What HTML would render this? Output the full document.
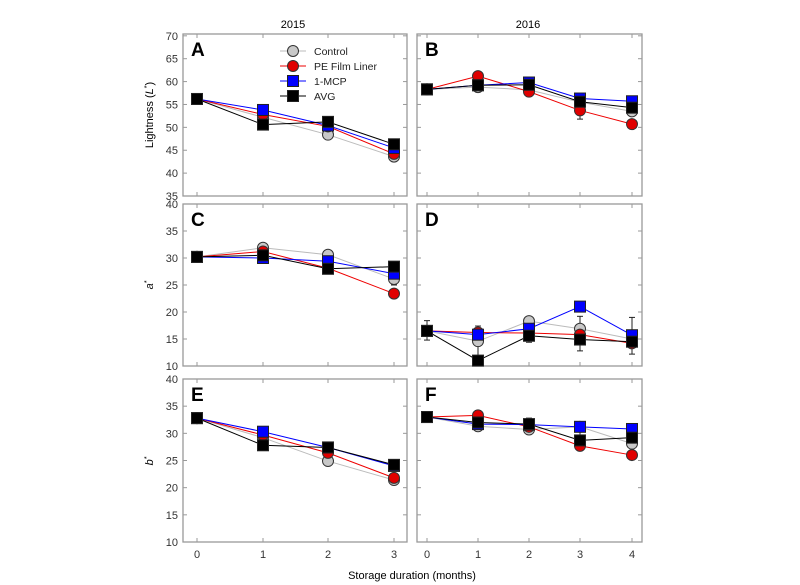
<!DOCTYPE html><html><head><meta charset="utf-8"><style>body{margin:0;background:#fff}svg{display:block;font-family:"Liberation Sans",sans-serif}</style></head><body>
<svg id="s" width="800" height="585" xmlns="http://www.w3.org/2000/svg">
<text x="293" y="28" font-size="11" text-anchor="middle">2015</text>
<text x="528" y="28" font-size="11" text-anchor="middle">2016</text>
<text x="412" y="579" font-size="11" text-anchor="middle">Storage duration (months)</text>
<text transform="translate(153,115) rotate(-90)" font-size="11" text-anchor="middle">Lightness (<tspan font-style="italic">L</tspan><tspan font-size="7" dy="-4">*</tspan><tspan dy="4">)</tspan></text>
<text transform="translate(153,285) rotate(-90)" font-size="11" text-anchor="middle" font-style="italic">a<tspan font-size="7" dy="-4">*</tspan></text>
<text transform="translate(153,461) rotate(-90)" font-size="11" text-anchor="middle" font-style="italic">b<tspan font-size="7" dy="-4">*</tspan></text>
</svg>
<script>
var s=document.getElementById('s'),NS='http://www.w3.org/2000/svg';
function el(t,a,tx){var e=document.createElementNS(NS,t);for(var k in a)e.setAttribute(k,a[k]);if(tx!==undefined)e.textContent=tx;s.appendChild(e);return e;}
var cols=[['#c8c8c8','#c8c8c8','c'],['#e00000','#e00000','c'],['#0000ff','#0000ff','s'],['#000','#000','s']];
var lines=['#bbb','#e00','#00f','#000'];
function panel(x0,x1,y0,y1,ymin,ymax,xt,n,letter,data,ylab,err){
  el('rect',{x:x0,y:y0,width:x1-x0,height:y1-y0,fill:'none',stroke:'#999','stroke-width':1.3});
  var sy=function(v){return y1-(v-ymin)/(ymax-ymin)*(y1-y0);};
  for(var v=ymin;v<=ymax;v+=5){var y=sy(v);el('line',{x1:x0,x2:x0+4,y1:y,y2:y,stroke:'#999'});el('line',{x1:x1,x2:x1-4,y1:y,y2:y,stroke:'#999'});
    if(ylab)el('text',{x:x0-5,y:y+4,'font-size':11,'text-anchor':'end',fill:'#333'},v);}
  for(var i=0;i<n;i++){var x=xt[i];el('line',{x1:x,x2:x,y1:y1,y2:y1-4,stroke:'#999'});el('line',{x1:x,x2:x,y1:y0,y2:y0+4,stroke:'#999'});}
  el('text',{x:x0+8,y:y0+22,'font-size':19,'font-weight':'bold'},letter);
  (err||[]).forEach(function(e){var x=xt[e[0]],ya=sy(e[1]),yb=sy(e[2]);el('line',{x1:x,x2:x,y1:ya,y2:yb,stroke:'#222'});el('line',{x1:x-3,x2:x+3,y1:ya,y2:ya,stroke:'#222'});el('line',{x1:x-3,x2:x+3,y1:yb,y2:yb,stroke:'#222'});});
  data.forEach(function(d,k){var p=d.map(function(v,i){return xt[i]+','+sy(v);}).join(' ');el('polyline',{points:p,fill:'none',stroke:lines[k],'stroke-width':1});});
  data.forEach(function(d,k){d.forEach(function(v,i){var x=xt[i],y=sy(v);
    if(cols[k][2]=='c')el('circle',{cx:x,cy:y,r:5.5,fill:cols[k][0],stroke:'#333','stroke-width':1});
    else el('rect',{x:x-5.5,y:y-5.5,width:11,height:11,fill:cols[k][0],stroke:'#222','stroke-width':1});});});
  return sy;
}
var L=[197,263,328,394],R=[427,478,529,580,632];
panel(183,407,34,196,35,70.4,L,4,'A',[[56.2,52.2,48.4,43.6],[56.2,52.8,50.2,44.2],[56.2,53.8,50.4,45.5],[56.2,50.6,51.2,46.3]],1);
panel(417,642,34,196,35,70.4,R,5,'B',[[58.3,58.8,58.2,55.5,53.5],[58.3,61.2,57.8,53.7,50.7],[58.3,59.2,59.8,56.3,55.7],[58.3,59.2,59.3,55.6,54.3]],0,[[1,57.8,60.2],[3,51.8,55.5]]);
panel(183,407,204,366,10,40,L,4,'C',[[30.2,31.9,30.6,26.1],[30.2,31.2,28.1,23.4],[30.2,30.0,29.4,27.1],[30.2,30.5,28.0,28.4]],1,[[3,25,27]]);
panel(417,642,204,366,10,40,R,5,'D',[[16.5,14.6,18.3,16.9,15.0],[16.5,16.2,16.1,15.8,14.2],[16.5,15.8,16.9,21.0,15.7],[16.5,11.0,15.6,14.9,14.5]],0,[[0,14.8,18.4],[1,10.2,17.4],[2,14.4,18.5],[3,12.8,19.2],[4,12.2,19.0]]);
panel(183,407,379,542,10,40,L,4,'E',[[32.8,29.2,24.9,21.4],[32.8,29.7,26.4,21.8],[32.8,30.3,27.4,24.0],[32.8,27.8,27.4,24.2]],1);
panel(417,642,379,542,10,40,R,5,'F',[[33.0,31.3,30.7,31.2,28.1],[33.0,33.3,31.2,27.7,26.0],[33.0,31.7,31.6,31.2,30.8],[33.0,32.0,31.7,28.7,29.2]],0,[[1,30.5,34.2],[2,30.2,32.8],[3,27.0,31.8],[4,27.5,31.5]]);
L.forEach(function(x,i){el('text',{x:x,y:558,'font-size':11,'text-anchor':'middle',fill:'#333'},i);});
R.forEach(function(x,i){el('text',{x:x,y:558,'font-size':11,'text-anchor':'middle',fill:'#333'},i);});
var names=['Control','PE Film Liner','1-MCP','AVG'];
names.forEach(function(nm,k){var y=51+k*15;el('line',{x1:280,x2:306,y1:y,y2:y,stroke:lines[k],'stroke-width':1.1});
  if(cols[k][2]=='c')el('circle',{cx:293,cy:y,r:5.5,fill:cols[k][0],stroke:'#333'});else el('rect',{x:287.5,y:y-5.5,width:11,height:11,fill:cols[k][0],stroke:'#222'});
  el('text',{x:314,y:y+4,'font-size':10.5,fill:'#222'},nm);});
</script>
</body></html>
